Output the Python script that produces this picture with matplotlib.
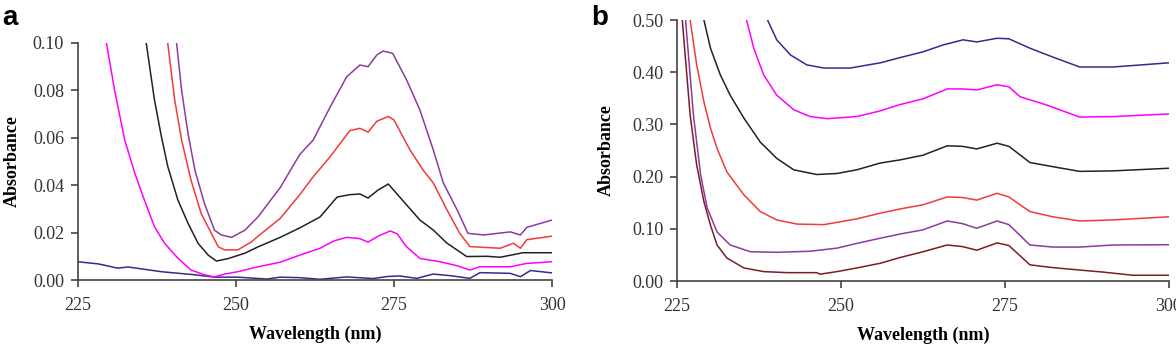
import matplotlib.pyplot as plt

# ---- panel a : wavelength (nm) / absorbance per curve ----
a_blue_x = [225, 228.2, 231.3, 232.9, 238.2, 243.5, 246.6, 250.3, 254.9, 257, 260, 263.3, 267.5, 271.7, 274, 275.9, 278.6, 281.2, 284, 287, 288.6, 293.4, 295, 296.6, 300]
a_blue_y = [0.0077, 0.0068, 0.005, 0.0055, 0.0035, 0.0022, 0.0012, 0.0012, 0.0004, 0.0012, 0.001, 0.0003, 0.0013, 0.0006, 0.0015, 0.0017, 0.0007, 0.0025, 0.0018, 0.0007, 0.0031, 0.0028, 0.0014, 0.004, 0.003]

a_mag_x = [228.8, 229.5, 230.8, 232.4, 234, 235.5, 237.1, 238.7, 240.8, 242.9, 245, 246.6, 248.2, 250.3, 253.5, 257, 260.1, 263.3, 265.5, 267.5, 269.5, 270.9, 272.5, 274.4, 275.5, 277, 279.1, 282.3, 285, 287, 288.6, 293.4, 296, 300]
a_mag_y = [0.11, 0.100, 0.080, 0.059, 0.045, 0.0338, 0.0225, 0.0155, 0.0092, 0.0042, 0.0022, 0.0013, 0.0025, 0.0035, 0.0056, 0.0075, 0.0105, 0.0134, 0.0165, 0.018, 0.0175, 0.016, 0.0185, 0.0207, 0.0195, 0.014, 0.0091, 0.0077, 0.006, 0.0042, 0.0056, 0.0056, 0.007, 0.0077]

a_blk_x = [235.2, 235.8, 237.1, 238.2, 239.2, 240.8, 242.4, 244, 245.6, 246.9, 248.7, 251.4, 253.5, 257, 260.1, 263.3, 266, 268, 269.6, 270.9, 272.5, 274.1, 275.9, 279.1, 281.2, 283.4, 286.5, 289.7, 291.8, 295.4, 300]
a_blk_y = [0.11, 0.100, 0.076, 0.0605, 0.048, 0.0338, 0.024, 0.0155, 0.0105, 0.008, 0.009, 0.0113, 0.014, 0.018, 0.022, 0.0266, 0.035, 0.036, 0.0363, 0.0346, 0.038, 0.0405, 0.035, 0.0253, 0.0211, 0.0155, 0.0099, 0.01, 0.0096, 0.0115, 0.0115]

a_red_x = [238.6, 239.2, 240.3, 241.4, 242.9, 244.5, 246.1, 247.2, 248.2, 250.3, 252.4, 253.5, 257, 260.1, 262.2, 264.9, 268, 269.6, 270.9, 272.3, 274.1, 275, 277.5, 279.6, 281.2, 283.4, 285.4, 287, 291.8, 293.9, 295, 296, 300]
a_red_y = [0.11, 0.100, 0.076, 0.059, 0.042, 0.028, 0.0197, 0.014, 0.0127, 0.0127, 0.016, 0.0185, 0.026, 0.036, 0.0435, 0.052, 0.063, 0.064, 0.0624, 0.067, 0.069, 0.0675, 0.055, 0.0464, 0.041, 0.0295, 0.0197, 0.0141, 0.0134, 0.0155, 0.0134, 0.017, 0.0185]

a_pur_x = [240.0, 240.6, 241.4, 242.4, 243.5, 245, 246.6, 247.7, 249.3, 251.4, 253.5, 257, 260.1, 262.2, 264.9, 267.5, 269.6, 270.9, 272.3, 273.3, 274.8, 277, 279.1, 281.2, 282.8, 285, 286.7, 289.2, 293.4, 295, 296, 300]
a_pur_y = [0.11, 0.100, 0.080, 0.062, 0.0464, 0.0324, 0.021, 0.019, 0.018, 0.021, 0.0267, 0.039, 0.053, 0.059, 0.073, 0.0857, 0.0907, 0.090, 0.095, 0.0966, 0.0956, 0.0844, 0.0717, 0.055, 0.041, 0.0295, 0.0197, 0.019, 0.0203, 0.019, 0.0222, 0.0253]

# ---- panel b ----
b_brn_x = [225.6, 225.8, 227, 228, 229.1, 230.1, 231.1, 232.6, 235.2, 238.2, 241.8, 246.3, 246.8, 249.4, 252.4, 256, 259, 262.5, 266.2, 268.5, 270.7, 273.8, 275.6, 278.8, 282, 286.4, 290, 294.5, 300]
b_brn_y = [0.52, 0.50, 0.318, 0.222, 0.152, 0.107, 0.069, 0.044, 0.025, 0.018, 0.016, 0.016, 0.013, 0.018, 0.025, 0.034, 0.045, 0.056, 0.069, 0.066, 0.059, 0.073, 0.068, 0.031, 0.026, 0.021, 0.017, 0.011, 0.011]

b_pur_x = [226.1, 226.3, 227.5, 228.6, 229.6, 231.1, 233.1, 236.2, 240.2, 245.3, 249.4, 252.4, 256, 259, 262.5, 266.2, 268.5, 270.7, 273.8, 275.6, 278.8, 282.3, 286.4, 291.5, 300]
b_pur_y = [0.52, 0.50, 0.318, 0.203, 0.140, 0.094, 0.069, 0.056, 0.055, 0.057, 0.063, 0.072, 0.082, 0.090, 0.098, 0.115, 0.110, 0.101, 0.115, 0.108, 0.069, 0.065, 0.065, 0.069, 0.0695]

b_red_x = [226.8, 227, 228, 229.1, 230.1, 231.1, 232.6, 235.2, 237.7, 240.2, 243.3, 247.4, 252.4, 256, 259, 262.5, 266.2, 268.5, 270.7, 273.8, 275.6, 278.8, 282.3, 286.4, 291.5, 300]
b_red_y = [0.52, 0.50, 0.414, 0.343, 0.293, 0.254, 0.209, 0.165, 0.133, 0.117, 0.109, 0.108, 0.119, 0.130, 0.138, 0.146, 0.161, 0.160, 0.155, 0.168, 0.161, 0.133, 0.123, 0.115, 0.117, 0.123]

b_blk_x = [228.8, 229.1, 230.1, 231.6, 233.1, 235.2, 237.7, 240.2, 242.8, 246.3, 249.4, 252.4, 256, 259, 262.5, 266.2, 268.5, 270.7, 273.8, 275.6, 278.8, 282.3, 286.4, 291.5, 300]
b_blk_y = [0.52, 0.50, 0.446, 0.395, 0.356, 0.312, 0.266, 0.235, 0.213, 0.204, 0.206, 0.213, 0.226, 0.232, 0.241, 0.259, 0.258, 0.253, 0.264, 0.258, 0.227, 0.219, 0.210, 0.211, 0.216]

b_mag_x = [235.3, 235.6, 236.7, 238.2, 240.2, 242.8, 245.3, 247.9, 252.4, 256, 259, 262.5, 266.2, 268.5, 270.7, 273.8, 275.6, 277.3, 281.4, 286.4, 291.5, 300]
b_mag_y = [0.52, 0.50, 0.446, 0.395, 0.356, 0.328, 0.315, 0.311, 0.315, 0.326, 0.338, 0.349, 0.368, 0.368, 0.366, 0.376, 0.372, 0.353, 0.337, 0.314, 0.315, 0.320]

b_blu_x = [238.5, 238.8, 240.2, 242.3, 244.8, 247.4, 251.4, 256, 259, 262.5, 265.5, 268.6, 270.7, 273.8, 275.6, 278.8, 282.3, 286.4, 291.5, 300]
b_blu_y = [0.52, 0.50, 0.462, 0.433, 0.414, 0.408, 0.408, 0.418, 0.428, 0.439, 0.452, 0.462, 0.458, 0.465, 0.464, 0.446, 0.429, 0.410, 0.410, 0.418]

a_ticks_y = [0.00, 0.02, 0.04, 0.06, 0.08, 0.10]
b_ticks_y = [0.00, 0.10, 0.20, 0.30, 0.40, 0.50]
x_ticks = [225, 250, 275, 300]

MAG = '#FF00FF'
PUR = '#8E3A9E'
RED = '#F03A3A'
BLK = '#222222'
BLU = '#2E2E8C'
BRN = '#7A1E22'

serif = 'Liberation Serif'

fig = plt.figure(figsize=(11.76, 3.45), dpi=100)
ax_a = fig.add_axes([0.0663, 0.1884, 0.4031, 0.687])
ax_b = fig.add_axes([0.5757, 0.1855, 0.4183, 0.7565])

ax_a.plot(a_blue_x, a_blue_y, color=BLU, lw=1.1)
ax_a.plot(a_mag_x, a_mag_y, color=MAG, lw=1.1)
ax_a.plot(a_blk_x, a_blk_y, color=BLK, lw=1.1)
ax_a.plot(a_red_x, a_red_y, color=RED, lw=1.1)
ax_a.plot(a_pur_x, a_pur_y, color=PUR, lw=1.1)

ax_b.plot(b_brn_x, b_brn_y, color=BRN, lw=1.1)
ax_b.plot(b_pur_x, b_pur_y, color=PUR, lw=1.1)
ax_b.plot(b_red_x, b_red_y, color=RED, lw=1.1)
ax_b.plot(b_blk_x, b_blk_y, color=BLK, lw=1.1)
ax_b.plot(b_mag_x, b_mag_y, color=MAG, lw=1.1)
ax_b.plot(b_blu_x, b_blu_y, color=BLU, lw=1.1)

for ax, yt, ymax, ylpad in [(ax_a, a_ticks_y, 0.10, 9), (ax_b, b_ticks_y, 0.50, 12)]:
    ax.set_xlim(225, 300)
    ax.set_ylim(0, ymax)
    ax.set_xticks(x_ticks)
    ax.set_yticks(yt)
    ax.set_yticklabels(['{:.2f}'.format(v) for v in yt])
    ax.spines['top'].set_visible(False)
    ax.spines['right'].set_visible(False)
    for s in ('left', 'bottom'):
        ax.spines[s].set_color('#444444')
        ax.spines[s].set_linewidth(1.2)
    ax.tick_params(direction='out', length=5, width=1.2, color='#444444', labelsize=13, pad=5)
    ax.tick_params(axis='x', pad=7)
    for lab in ax.get_xticklabels() + ax.get_yticklabels():
        lab.set_fontfamily(serif)
        lab.set_color('#333333')
    ax.set_xlabel('Wavelength (nm)', fontfamily=serif, fontweight='bold', fontsize=13, labelpad=9)
    ax.set_ylabel('Absorbance', fontfamily=serif, fontweight='bold', fontsize=13, labelpad=ylpad)

fig.text(0.002, 0.985, 'a', fontfamily='Liberation Sans', fontweight='bold', fontsize=20, va='top', ha='left')
fig.text(0.503, 0.985, 'b', fontfamily='Liberation Sans', fontweight='bold', fontsize=20, va='top', ha='left')

fig.savefig('out.png', dpi=100)
